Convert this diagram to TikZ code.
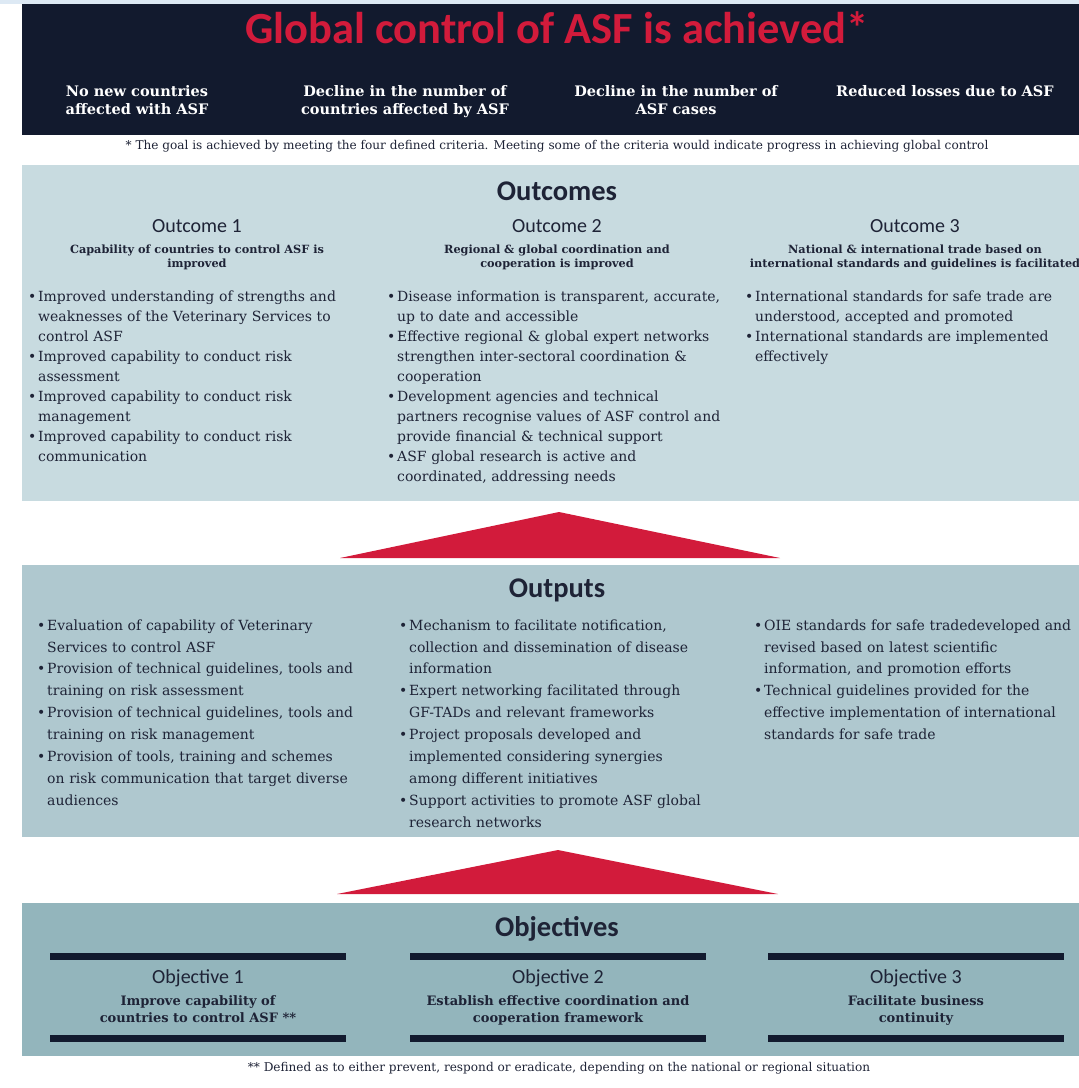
\documentclass[tikz,border=0pt]{standalone}
\usepackage{fontspec}
\setmainfont{DejaVu Serif}
\newfontfamily\headfont{Carlito}
\usepackage{tikz}
\usetikzlibrary{positioning}

\definecolor{goalnavy}{HTML}{121A2E}
\definecolor{goalred}{HTML}{D21B3B}
\definecolor{topband}{HTML}{DDE9F4}
\definecolor{outcomefill}{HTML}{C8DBE0}
\definecolor{outputfill}{HTML}{AFC8CF}
\definecolor{objectivefill}{HTML}{93B5BC}
\definecolor{inktext}{HTML}{1E2336}

% one bullet line, continuation lines hang under the text
\newcommand{\bitem}[1]{\par\hangindent=10pt\hangafter=1\noindent\makebox[10pt][l]{\textbullet}#1\par}

\begin{document}
\begin{tikzpicture}[
        x=1pt, y=-1pt,
        % panels and their texts
        panel/.style={anchor=north west, inner sep=0pt, outer sep=0pt, minimum width=1057pt},
        goaltitle/.style={font=\headfont\bfseries\fontsize{44.5}{46}\selectfont, text=goalred, inner sep=0pt},
        criterion/.style={font=\bfseries\fontsize{14.5}{18}\selectfont, text=white, align=center, anchor=north, inner sep=0pt},
        sectitle/.style={font=\headfont\bfseries\fontsize{28.5}{30}\selectfont, text=inktext, anchor=base, inner sep=0pt},
        colhead/.style={font=\headfont\fontsize{20}{22}\selectfont, text=inktext, anchor=base, inner sep=0pt},
        colsub/.style={font=\bfseries\fontsize{11.3}{14.5}\selectfont, text=inktext, align=center, anchor=north, inner sep=0pt},
        objsub/.style={font=\bfseries\fontsize{13}{17}\selectfont, text=inktext, align=center, anchor=north, inner sep=0pt},
        bullets/.style={anchor=north west, text width=345pt, align=left, inner sep=0pt, text=inktext},
        note/.style={font=\fontsize{12.1}{14}\selectfont, text=inktext, anchor=base, inner sep=0pt},
        objbar/.style={fill=goalnavy, inner sep=0pt, minimum height=7pt, minimum width=296pt},
        pointer/.style={fill=goalred}
    ]
    \useasboundingbox (0,0) rectangle (1079,1088);
    \fill[topband] (0,0) rectangle (1079,4);

    % goal
    \node[panel, fill=goalnavy, minimum height=131pt] (goal) at (22,4) {};
    \node[goaltitle, anchor=base] (goaltext) at (557,43) {Global control of ASF is achieved*};
    \node[criterion] (crit1) at (137,85) {No new countries\\affected with ASF};
    \node[criterion] (crit2) at (405,85) {Decline in the number of\\countries affected by ASF};
    \node[criterion] (crit3) at (676,85) {Decline in the number of\\ASF cases};
    \node[criterion] (crit4) at (945,85) {Reduced losses due to ASF};
    \node[note] (goalnote) at (557,149) {* The goal is achieved by meeting the four defined criteria. Meeting some of the criteria would indicate progress in achieving global control};

    % outcomes
    \node[panel, fill=outcomefill, minimum height=336pt] (outcomes) at (22,165) {};
    \node[sectitle] (outcomestitle) at (557,200) {Outcomes};
    \node[colhead] (outhead1) at (197,232) {Outcome 1};
    \node[colhead] (outhead2) at (557,232) {Outcome 2};
    \node[colhead] (outhead3) at (915,232) {Outcome 3};
    \node[colsub, below=12pt of outhead1] (outsub1) {Capability of countries to control ASF is\\improved};
    \node[colsub, below=12pt of outhead2] (outsub2) {Regional \& global coordination and\\cooperation is improved};
    \node[colsub, below=12pt of outhead3] (outsub3) {National \& international trade based on\\international standards and guidelines is facilitated};
    \begin{scope}[every node/.append style={font=\fontsize{14}{20}\selectfont}]
        \node[bullets] (outlist1) at (28,281) {%
            \bitem{Improved understanding of strengths and\newline weaknesses of the Veterinary Services to\newline control ASF}
            \bitem{Improved capability to conduct risk\newline assessment}
            \bitem{Improved capability to conduct risk\newline management}
            \bitem{Improved capability to conduct risk\newline communication}};
        \node[bullets] (outlist2) at (387,281) {%
            \bitem{Disease information is transparent, accurate,\newline up to date and accessible}
            \bitem{Effective regional \& global expert networks\newline strengthen inter-sectoral coordination \&\newline cooperation}
            \bitem{Development agencies and technical\newline partners recognise values of ASF control and\newline provide financial \& technical support}
            \bitem{ASF global research is active and\newline coordinated, addressing needs}};
        \node[bullets] (outlist3) at (745,281) {%
            \bitem{International standards for safe trade are\newline understood, accepted and promoted}
            \bitem{International standards are implemented\newline effectively}};
    \end{scope}

    \fill[pointer] (340,558) -- (559,512) -- (780,558) -- cycle;

    % outputs
    \node[panel, fill=outputfill, minimum height=272pt] (outputs) at (22,565) {};
    \node[sectitle] (outputstitle) at (557,597) {Outputs};
    \begin{scope}[every node/.append style={font=\fontsize{14}{21.9}\selectfont}]
        \node[bullets] (putlist1) at (37,608) {%
            \bitem{Evaluation of capability of Veterinary\newline Services to control ASF}
            \bitem{Provision of technical guidelines, tools and\newline training on risk assessment}
            \bitem{Provision of technical guidelines, tools and\newline training on risk management}
            \bitem{Provision of tools, training and schemes\newline on risk communication that target diverse\newline audiences}};
        \node[bullets] (putlist2) at (399,608) {%
            \bitem{Mechanism to facilitate notification,\newline collection and dissemination of disease\newline information}
            \bitem{Expert networking facilitated through\newline GF-TADs and relevant frameworks}
            \bitem{Project proposals developed and\newline implemented considering synergies\newline among different initiatives}
            \bitem{Support activities to promote ASF global\newline research networks}};
        \node[bullets] (putlist3) at (754,608) {%
            \bitem{OIE standards for safe tradedeveloped and\newline revised based on latest scientific\newline information, and promotion efforts}
            \bitem{Technical guidelines provided for the\newline effective implementation of international\newline standards for safe trade}};
    \end{scope}

    \fill[pointer] (337,894) -- (558,850) -- (778,894) -- cycle;

    % objectives
    \node[panel, fill=objectivefill, minimum height=153pt] (objectives) at (22,903) {};
    \node[sectitle] (objectivestitle) at (557,936) {Objectives};
    \foreach \col/\cx in {1/198, 2/558, 3/916} {
        \node[objbar] (topbar\col) at (\cx,956.5) {};
        \node[objbar] (lowbar\col) at (\cx,1038.5) {};
        \node[colhead] (objhead\col) at (\cx,983) {Objective \col};
    }
    \node[objsub, below=9pt of objhead1] (objsub1) {Improve capability of\\countries to control ASF **};
    \node[objsub, below=9pt of objhead2] (objsub2) {Establish effective coordination and\\cooperation framework};
    \node[objsub, below=9pt of objhead3] (objsub3) {Facilitate business\\continuity};
    \node[note] (objnote) at (559,1071) {** Defined as to either prevent, respond or eradicate, depending on the national or regional situation};
\end{tikzpicture}
\end{document}
